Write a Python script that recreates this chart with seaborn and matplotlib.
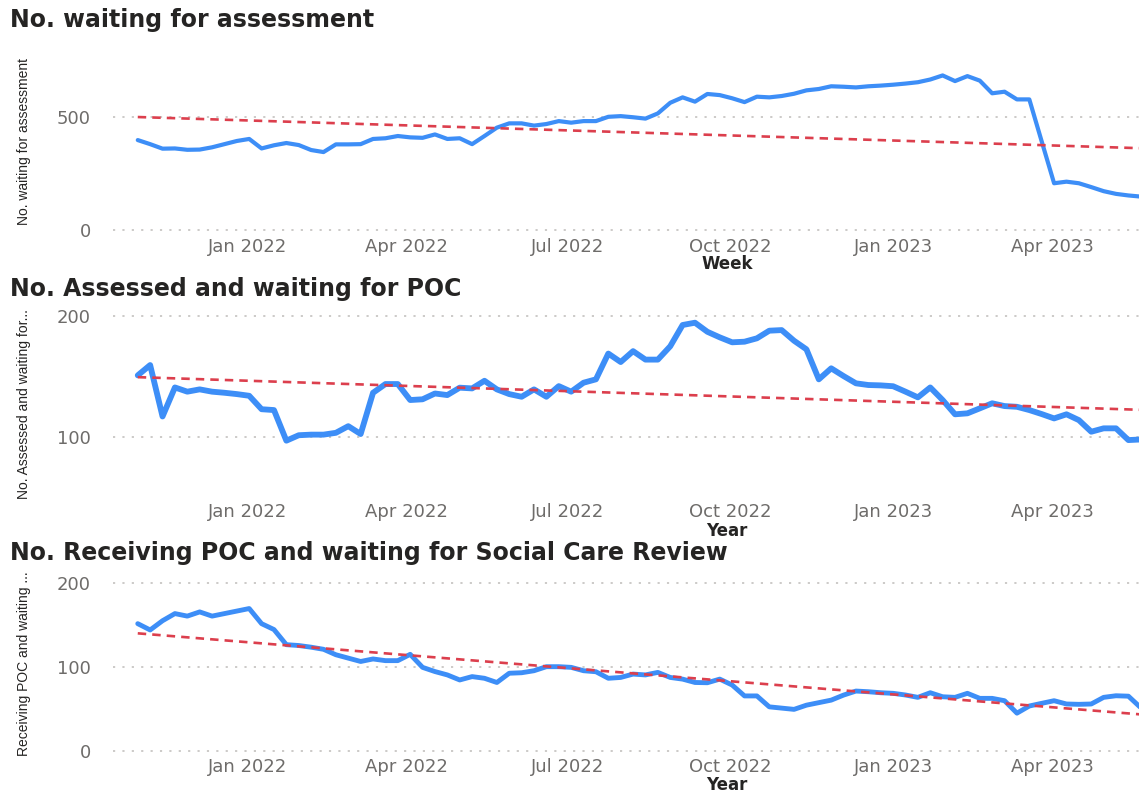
import numpy as np
import pandas as pd
import matplotlib
matplotlib.use("Agg")
import matplotlib.pyplot as plt
import matplotlib.dates as mdates
import seaborn as sns

# ---------------- data ----------------
weeks = pd.date_range("2021-10-31", periods=82, freq="7D")

waiting_assessment = [
    398, 380, 360, 361, 355, 356, 366, 380, 394, 403,
    361, 375, 385, 376, 354, 345, 379, 379, 380, 403,
    406, 416, 410, 408, 423, 403, 406, 380, 416, 453,
    472, 472, 462, 469, 482, 475, 482, 482, 501, 504,
    499, 493, 516, 563, 587, 568, 602, 597, 583, 566,
    590, 587, 593, 603, 618, 624, 636, 634, 631, 636,
    639, 643, 648, 654, 666, 684, 659, 681, 661, 605,
    612, 578, 578, 392, 207, 214, 207, 190, 172, 160,
    153, 148]

assessed_waiting_poc = [
    151, 159.5, 117, 141, 137.5, 139.4, 137.5, 136.6, 135.5, 134.1,
    123, 122.3, 97, 101.5, 102, 102, 103.5, 109, 102.5, 136.6,
    143.8, 143.8, 130.6, 131.2, 136, 134.7, 140.8, 140.2, 146.5, 139.4,
    135.5, 133.3, 139.4, 133.3, 142.1, 137.5, 144.9, 147.7, 169, 162,
    171, 164, 164, 175, 192.6, 194.5, 187, 182.4, 178.3, 178.8,
    181.6, 187.9, 188.4, 179.6, 172.5, 147.7, 156.8, 150.4, 144.4, 143,
    142.7, 142, 137.5, 132.8, 141, 130.6, 118.8, 119.6, 123.7, 127.9,
    125.6, 125, 122.3, 119, 115.4, 118.8, 114, 104.4, 107.2, 107.2,
    97.5, 98]

receiving_poc_waiting_review = [
    151, 143.5, 154.5, 163, 160, 165, 160, 163, 166, 169,
    151, 144, 126, 125, 123, 120.5, 114, 110, 106, 109,
    107, 107, 114.5, 99, 94, 90, 84, 88, 86, 81,
    92, 92.6, 95, 99.8, 99.8, 99, 95, 93.8, 86, 87,
    91, 90, 93, 87, 85, 81, 80.7, 85, 78, 65,
    65, 52, 50.5, 49, 54, 57, 60, 66, 70.8, 70,
    68.8, 68.1, 66.1, 63.3, 68.8, 64, 63.3, 68.1, 62.1, 62.1,
    59.3, 44.5, 53, 56.2, 59.3, 55.4, 55, 55.4, 63.3, 65.2,
    64.7, 51]

# trend line (start, end) values
trend_assessment = [500, 362]
trend_poc = [149.5, 122.5]
trend_review = [139.5, 43]

titles = ["No. waiting for assessment",
          "No. Assessed and waiting for POC",
          "No. Receiving POC and waiting for Social Care Review"]
y_titles = ["No. waiting for assessment",
            "No. Assessed and waiting for...",
            "Receiving POC and waiting ..."]
x_titles = ["Week", "Year", "Year"]
y_ticks = [[0, 500], [100, 200], [0, 100, 200]]

# ---------------- style ----------------
sns.set_theme(style="white")
plt.rcParams['font.family'] = ['DejaVu Sans']

W, H = 1139, 794
fig = plt.figure(figsize=(W / 100, H / 100), dpi=100)

LINE = "#3D8EF7"
TREND = "#DC3F4D"
GRID = "#C8C6C4"
TICK = "#6E6C6A"
DARK = "#252423"

def px_axes(top, bottom, left=113, right=1139):
    return [left / W, 1 - bottom / H, (right - left) / W, (bottom - top) / H]

panels = [
    dict(rect=px_axes(67.3, 232.3), ylim=(-10, 720), data=waiting_assessment,
         trend=trend_assessment, lw=3.0, title_y=20, xpad=4, ylab_y=0.55),
    dict(rect=px_axes(310, 491.5), ylim=(55, 205), data=assessed_waiting_poc,
         trend=trend_poc, lw=4.2, title_y=289, xpad=8, ylab_y=0.48),
    dict(rect=px_axes(574.1, 753.9), ylim=(-4, 210), data=receiving_poc_waiting_review,
         trend=trend_review, lw=3.5, title_y=553, xpad=3, ylab_y=0.5),
]

xlim = (pd.Timestamp("2021-10-17"), pd.Timestamp("2023-05-20"))
xlab_px = [264, 531, 785]

for k, p in enumerate(panels):
    ax = fig.add_axes(p["rect"])
    df = pd.DataFrame({"week": weeks, "value": p["data"]})
    sns.lineplot(data=df, x="week", y="value", ax=ax, color=LINE,
                 linewidth=p["lw"], solid_joinstyle="round",
                 solid_capstyle="round", zorder=3)
    ax.plot([weeks[0], weeks[-1]], p["trend"], color=TREND, linewidth=1.9,
            linestyle=(0, (3.2, 2.3)), zorder=4)

    ax.set_xlim(*xlim)
    ax.set_ylim(*p["ylim"])
    ax.set_yticks(y_ticks[k])
    ax.xaxis.set_major_locator(mdates.MonthLocator(bymonth=[1, 4, 7, 10]))
    ax.xaxis.set_major_formatter(mdates.DateFormatter("%b %Y"))
    ax.grid(axis="y", color=GRID, linestyle=(0, (1.2, 4)), linewidth=1.3)
    ax.grid(axis="x", visible=False)
    for s in ax.spines.values():
        s.set_visible(False)
    ax.tick_params(axis="y", length=0, pad=16, labelsize=13, labelcolor=TICK)
    ax.tick_params(axis="x", length=0, pad=p["xpad"], labelsize=13, labelcolor=TICK)

    ax.set_ylabel(y_titles[k], fontsize=10, color=DARK,
                  family=['Liberation Sans', 'DejaVu Sans'])
    ax.yaxis.set_label_coords((31 - 113) / 1026, p["ylab_y"])

    ax.set_xlabel(x_titles[k], fontsize=12, fontweight="bold", color=DARK)
    pos = ax.get_position()
    bottom_px = H - pos.y0 * H
    height_px = pos.height * H
    ax.xaxis.set_label_coords((727 - 113) / 1026, -(xlab_px[k] - bottom_px) / height_px)
    ax.xaxis.label.set_verticalalignment("center")

    fig.text(10 / W, 1 - p["title_y"] / H, titles[k], ha="left", va="center",
             fontsize=17, fontweight="bold", color=DARK)

fig.savefig("out.png", dpi=100, facecolor="white")
